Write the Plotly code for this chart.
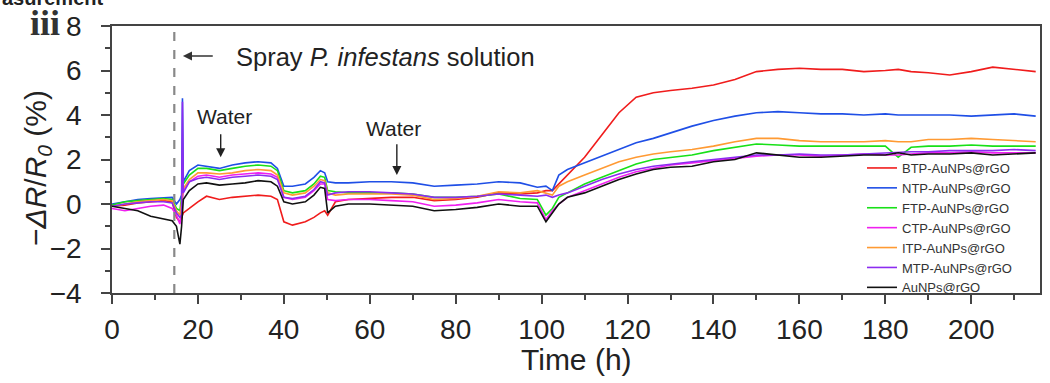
import plotly.graph_objects as go

# ---------------- data ----------------
time_h = [0, 3, 6, 9, 12, 14, 15, 15.8, 16.2, 16.4,
          16.6, 18, 20, 22, 25, 28, 31, 34, 37, 38.5,
          40, 42, 45, 47, 48.5, 49.5, 50.2, 52, 55, 60,
          65, 70, 75, 80, 85, 90, 95, 99, 101, 102.5,
          104, 106, 110, 114, 118, 122, 126, 130, 135, 140,
          145, 150, 155, 160, 165, 170, 175, 180, 183, 186,
          190, 195, 200, 205, 210, 215]

btp = [-0.10, -0.05, 0.05, 0.10, 0.15, 0.10, -0.60, -0.80, -0.60, -0.50,
       -0.40, -0.20, 0.10, 0.35, 0.20, 0.30, 0.35, 0.40, 0.35, 0.20,
       -0.80, -0.95, -0.80, -0.60, -0.40, -0.30, -0.50, 0.10, 0.20, 0.25,
       0.30, 0.30, 0.15, 0.20, 0.30, 0.50, 0.45, 0.50, 0.60, 0.60,
       0.90, 1.30, 2.10, 3.10, 4.10, 4.80, 5.00, 5.10, 5.20, 5.35,
       5.60, 5.95, 6.05, 6.10, 6.05, 6.05, 5.95, 6.00, 6.05, 5.95,
       5.90, 5.80, 5.95, 6.15, 6.05, 5.95]

ntp = [0.00, 0.10, 0.20, 0.25, 0.30, 0.30, 0.00, 0.20, 0.40, 4.75,
       1.00, 1.50, 1.75, 1.70, 1.60, 1.75, 1.85, 1.90, 1.85, 1.60,
       0.80, 0.80, 0.90, 1.20, 1.50, 1.40, 1.00, 0.95, 0.95, 1.00,
       1.00, 0.95, 0.80, 0.85, 0.90, 1.00, 0.95, 0.75, 0.80, 0.60,
       1.30, 1.55, 1.85, 2.15, 2.45, 2.75, 2.95, 3.20, 3.50, 3.75,
       3.95, 4.10, 4.15, 4.10, 4.05, 4.05, 4.00, 4.05, 4.00, 4.00,
       4.00, 4.00, 3.95, 4.00, 4.05, 3.95]

ftp = [-0.05, 0.10, 0.15, 0.20, 0.25, 0.20, -0.20, -0.30, 0.30, 0.60,
       0.90, 1.30, 1.60, 1.60, 1.50, 1.60, 1.70, 1.75, 1.70, 1.50,
       0.60, 0.50, 0.60, 0.90, 1.25, 1.20, 0.60, 0.55, 0.50, 0.50,
       0.50, 0.45, 0.30, 0.30, 0.35, 0.45, 0.25, 0.20, -0.50, -0.20,
       0.30, 0.50, 0.90, 1.20, 1.50, 1.80, 2.00, 2.10, 2.20, 2.40,
       2.55, 2.70, 2.65, 2.60, 2.60, 2.60, 2.60, 2.60, 2.10, 2.55,
       2.60, 2.60, 2.65, 2.60, 2.60, 2.60]

ctp = [-0.20, -0.30, -0.20, -0.10, -0.05, -0.20, -0.50, -0.90, -0.30, 0.30,
       0.60, 1.00, 1.25, 1.30, 1.20, 1.30, 1.35, 1.40, 1.35, 1.20,
       0.30, 0.20, 0.30, 0.60, 0.90, 0.90, 0.20, 0.15, 0.20, 0.20,
       0.15, 0.10, -0.10, -0.05, 0.05, 0.20, 0.10, 0.05, -0.70, -0.30,
       0.00, 0.30, 0.60, 0.90, 1.20, 1.45, 1.60, 1.75, 1.85, 1.95,
       2.05, 2.15, 2.20, 2.20, 2.15, 2.20, 2.25, 2.20, 2.20, 2.25,
       2.30, 2.30, 2.35, 2.30, 2.30, 2.30]

itp = [-0.10, 0.00, 0.10, 0.15, 0.20, 0.15, -0.30, -0.50, 0.00, 0.40,
       0.70, 1.10, 1.40, 1.40, 1.35, 1.40, 1.50, 1.55, 1.50, 1.30,
       0.50, 0.40, 0.50, 0.80, 1.10, 1.05, 0.50, 0.40, 0.45, 0.45,
       0.45, 0.40, 0.20, 0.25, 0.35, 0.55, 0.50, 0.60, 0.50, 0.40,
       0.80, 1.00, 1.30, 1.60, 1.90, 2.10, 2.25, 2.35, 2.45, 2.60,
       2.80, 2.95, 2.95, 2.85, 2.80, 2.80, 2.80, 2.85, 2.80, 2.80,
       2.90, 2.90, 2.95, 2.90, 2.85, 2.80]

mtp = [-0.10, 0.00, 0.05, 0.10, 0.10, 0.05, -0.40, -0.60, -0.50, 4.60,
       0.50, 1.00, 1.15, 1.20, 1.10, 1.20, 1.25, 1.30, 1.25, 1.10,
       0.30, 0.25, 0.35, 0.65, 1.00, 0.95, 0.40, 0.50, 0.55, 0.55,
       0.50, 0.45, 0.30, 0.30, 0.35, 0.45, 0.40, 0.35, 0.40, 0.30,
       0.40, 0.50, 0.80, 1.10, 1.35, 1.55, 1.70, 1.80, 1.90, 2.00,
       2.10, 2.20, 2.20, 2.25, 2.20, 2.20, 2.25, 2.30, 2.30, 2.35,
       2.35, 2.40, 2.40, 2.40, 2.45, 2.40]

aunps = [-0.10, -0.20, -0.30, -0.55, -0.65, -0.75, -1.00, -1.80, -1.00, -0.30,
         0.20, 0.60, 0.90, 0.95, 0.85, 0.90, 0.95, 1.05, 1.00, 0.80,
         0.10, 0.00, 0.10, 0.40, 0.75, 0.70, -0.40, -0.10, 0.00, 0.00,
         -0.05, -0.10, -0.30, -0.25, -0.15, 0.00, -0.10, -0.10, -0.80, -0.40,
         0.00, 0.30, 0.50, 0.80, 1.10, 1.35, 1.55, 1.65, 1.70, 1.90,
         2.00, 2.30, 2.20, 2.10, 2.10, 2.15, 2.20, 2.20, 2.30, 2.20,
         2.25, 2.25, 2.30, 2.20, 2.25, 2.30]

series_names = ["BTP-AuNPs@rGO", "NTP-AuNPs@rGO", "FTP-AuNPs@rGO", "CTP-AuNPs@rGO",
                "ITP-AuNPs@rGO", "MTP-AuNPs@rGO", "AuNPs@rGO"]
series_values = [btp, ntp, ftp, ctp, itp, mtp, aunps]
series_colors = ["#f01c1c", "#1f4fe6", "#18e018", "#f020f0", "#ff9a33", "#8c2cf0", "#111111"]

x_ticks = [0, 20, 40, 60, 80, 100, 120, 140, 160, 180, 200]
y_ticks = [-4, -2, 0, 2, 4, 6, 8]
spray_time = 14.5

# ---------------- figure ----------------
W, H = 1050, 383
L, R, T, B = 112, 1040, 26, 293

def px(xp):
    return (xp - L) / (R - L)

def py(yp):
    return (B - yp) / (B - T)

fig = go.Figure()
for name, vals, col in zip(series_names, series_values, series_colors):
    assert len(vals) == len(time_h), name
    fig.add_trace(go.Scatter(x=time_h, y=vals, mode="lines", name=name,
                             line=dict(color=col, width=1.6)))

font_family = "Liberation Sans, Arial, sans-serif"
axis_col = "#444444"

fig.update_layout(
    width=W, height=H,
    margin=dict(l=L, r=W - R, t=T, b=H - B, autoexpand=False),
    paper_bgcolor="white", plot_bgcolor="white",
    font=dict(family=font_family, color="#222222"),
    showlegend=True,
    legend=dict(x=px(862), y=py(153), xanchor="left", yanchor="top",
                bgcolor="rgba(0,0,0,0)", borderwidth=0,
                font=dict(size=13, color="#333333", family=font_family),
                itemwidth=30, tracegroupgap=0),
)

fig.update_xaxes(
    range=[0, 216], tickvals=x_ticks, ticks="outside", ticklen=9, tickwidth=1.5,
    tickcolor=axis_col, showline=True, linecolor=axis_col, linewidth=1.5, mirror=True,
    showgrid=False, zeroline=False, tickfont=dict(size=28, color="#222222"),
    ticklabelstandoff=2,
    minor=dict(ticks="outside", ticklen=5, dtick=10, tick0=0, tickcolor=axis_col, tickwidth=1.5),
)
fig.update_yaxes(
    range=[-4, 8], tickvals=y_ticks, ticks="outside", ticklen=9, tickwidth=1.5,
    tickcolor=axis_col, showline=True, linecolor=axis_col, linewidth=1.5, mirror=True,
    showgrid=False, zeroline=False, tickfont=dict(size=28, color="#222222"),
    ticklabelstandoff=14,
    minor=dict(ticks="outside", ticklen=5, dtick=1, tick0=0, tickcolor=axis_col, tickwidth=1.5),
)

# spray marker line
fig.add_shape(type="line", xref="x", yref="paper", x0=spray_time, x1=spray_time, y0=0, y1=1,
              line=dict(color="#888888", width=2.2, dash="dash"))

annos = []
# axis titles
annos.append(dict(text="Time (h)", xref="paper", yref="paper", x=0.5, y=py(359),
                  xanchor="center", yanchor="middle", showarrow=False,
                  font=dict(size=30, color="#222222")))
annos.append(dict(text="−<i>ΔR</i>/<i>R<sub>0</sub></i> (%)", xref="paper", yref="paper",
                  x=px(37), y=py(168), xanchor="center", yanchor="middle", textangle=-90,
                  showarrow=False, font=dict(size=30, color="#222222")))
# spray annotation
annos.append(dict(text="", x=16.5, y=6.65, ax=23.8, ay=6.65, xref="x", yref="y",
                  axref="x", ayref="y", showarrow=True, arrowhead=2, arrowsize=1.3,
                  arrowwidth=1.4, arrowcolor="#333333"))
annos.append(dict(text="Spray <i>P. infestans</i> solution", x=px(234), y=py(57),
                  xref="paper", yref="paper", xanchor="left", yanchor="middle",
                  showarrow=False, font=dict(size=25.5, color="#222222")))
# water annotations
annos.append(dict(text="Water", x=px(224), y=py(116), xref="paper", yref="paper",
                  xanchor="center", yanchor="middle", showarrow=False,
                  font=dict(size=21, color="#222222")))
annos.append(dict(text="", x=25.3, y=2.1, ax=25.3, ay=3.2, xref="x", yref="y",
                  axref="x", ayref="y", showarrow=True, arrowhead=2, arrowsize=1.3,
                  arrowwidth=1.4, arrowcolor="#222222"))
annos.append(dict(text="Water", x=px(393), y=py(128), xref="paper", yref="paper",
                  xanchor="center", yanchor="middle", showarrow=False,
                  font=dict(size=21, color="#222222")))
annos.append(dict(text="", x=66.3, y=1.3, ax=66.3, ay=2.75, xref="x", yref="y",
                  axref="x", ayref="y", showarrow=True, arrowhead=2, arrowsize=1.3,
                  arrowwidth=1.4, arrowcolor="#222222"))
# panel label and cut-off heading
annos.append(dict(text="<b>iii</b>", x=px(45), y=py(23), xref="paper", yref="paper",
                  xanchor="center", yanchor="middle", showarrow=False,
                  font=dict(size=36, color="#333333", family="Liberation Serif, Times New Roman, serif")))
annos.append(dict(text="<b>asurement</b>", x=px(0), y=py(11), xref="paper", yref="paper",
                  xanchor="left", yanchor="bottom", showarrow=False,
                  font=dict(size=20, color="#222222")))
fig.update_layout(annotations=annos)

fig.write_html("out.html", config={"displayModeBar": False},
               post_script="document.body.style.margin='0px';")
